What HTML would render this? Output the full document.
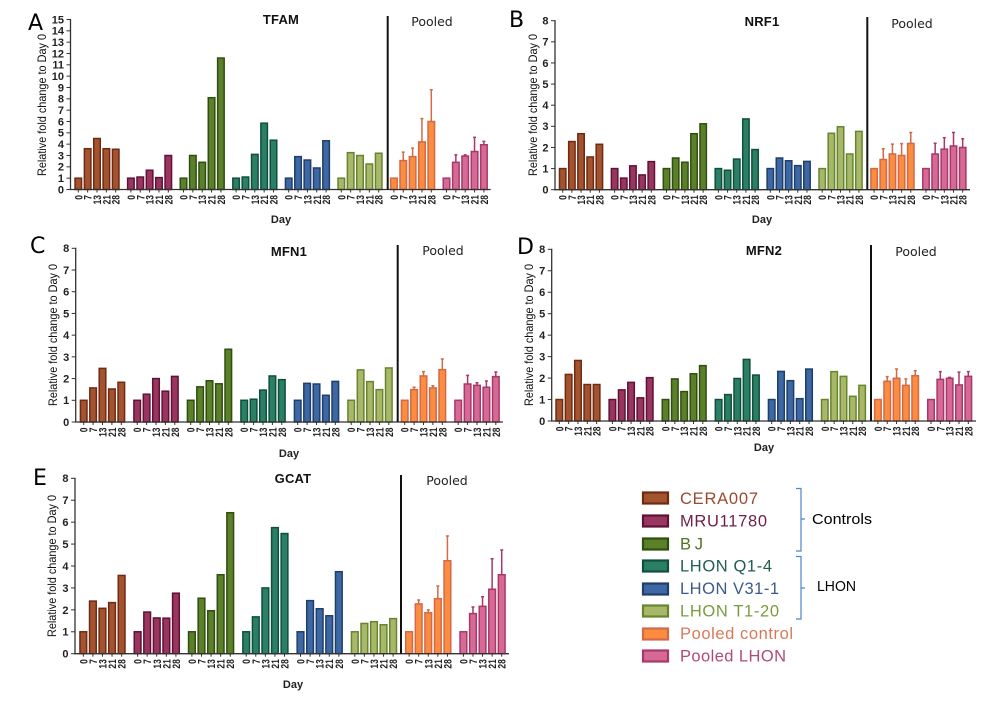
<!DOCTYPE html>
<html lang="en">
<head>
<meta charset="utf-8">
<title>Relative fold change to Day 0</title>
<style>
html,body{margin:0;padding:0;background:#fff;}
#figure{display:block;width:990px;height:705px;}
#figure text{font-family:"Liberation Sans",sans-serif;}
.tick{font-size:11px;font-weight:bold;fill:#222;}
.xtick{font-size:11px;font-weight:bold;fill:#222;}
.ytitle{font-size:12px;fill:#111;}
.title{font-size:13px;font-weight:bold;fill:#111;letter-spacing:.2px;}
.day{font-size:11px;font-weight:bold;fill:#222;}
.pooled{font-size:12.5px;fill:#222;font-family:"DejaVu Sans",sans-serif !important;}
.letter{font-size:22px;fill:#000;font-family:"DejaVu Sans",sans-serif !important;}
.lg{font-size:16.5px;}
.grp{font-size:15px;fill:#000;}
</style>
</head>
<body>
<svg id="figure" xmlns="http://www.w3.org/2000/svg" width="990" height="705" viewBox="0 0 990 705">
  <g id="panels" style="filter:blur(0.2px)"></g>
  <g id="legend" style="filter:blur(0.2px)">
    <g><rect x="643" y="492.5" width="25" height="11" fill="#a4532f" stroke="#6f2a12" stroke-width="2.2"/><text class="lg" x="680" y="504" fill="#9a4a2e" textLength="78" lengthAdjust="spacing">CERA007</text></g>
    <g><rect x="643" y="515.5" width="25" height="11" fill="#9a3560" stroke="#5f1236" stroke-width="2.2"/><text class="lg" x="680" y="526.5" fill="#6d1f45" textLength="87" lengthAdjust="spacing">MRU11780</text></g>
    <g><rect x="643" y="538.5" width="25" height="11" fill="#5c7f2a" stroke="#2f4f10" stroke-width="2.2"/><text class="lg" x="680" y="549.5" fill="#4f7020" textLength="23" lengthAdjust="spacing">BJ</text></g>
    <g><rect x="643" y="560.5" width="25" height="11" fill="#2a7f65" stroke="#0f4f3c" stroke-width="2.2"/><text class="lg" x="680" y="571.5" fill="#1f5f4f" textLength="92" lengthAdjust="spacing">LHON Q1-4</text></g>
    <g><rect x="643" y="583.5" width="25" height="11" fill="#3d68a5" stroke="#1f3f68" stroke-width="2.2"/><text class="lg" x="680" y="594" fill="#3c5a8a" textLength="99" lengthAdjust="spacing">LHON V31-1</text></g>
    <g><rect x="643" y="605.5" width="25" height="11" fill="#a9b868" stroke="#66852f" stroke-width="2.2"/><text class="lg" x="680" y="616.5" fill="#7a9a40" textLength="99" lengthAdjust="spacing">LHON T1-20</text></g>
    <g><rect x="643" y="628.5" width="25" height="11" fill="#fc8c3f" stroke="#d06a4a" stroke-width="2.2"/><text class="lg" x="680" y="639" fill="#d8785a" textLength="113" lengthAdjust="spacing">Pooled control</text></g>
    <g><rect x="643" y="650.5" width="25" height="11" fill="#d66a95" stroke="#a8386a" stroke-width="2.2"/><text class="lg" x="680" y="661.5" fill="#b04a78" textLength="106" lengthAdjust="spacing">Pooled LHON</text></g>
    <path d="M796 488.5H801V551H796M801 519H805" fill="none" stroke="#4a86c8" stroke-width="1.2"/>
    <path d="M796 556.5H801V619H796M801 588H805" fill="none" stroke="#4a86c8" stroke-width="1.2"/>
    <text class="grp" x="812" y="524" textLength="60" lengthAdjust="spacingAndGlyphs">Controls</text>
    <text class="grp" x="817" y="591" textLength="39" lengthAdjust="spacingAndGlyphs">LHON</text>
  </g>
</svg>
<script>
const days = ['0', '7', '13', '21', '28'];
const cellLines = ['CERA007', 'MRU11780', 'BJ', 'LHON Q1-4', 'LHON V31-1', 'LHON T1-20', 'Pooled control', 'Pooled LHON'];
const fills = ['#a4532f', '#9a3560', '#5c7f2a', '#2a7f65', '#3d68a5', '#a9b868', '#fc8c3f', '#d66a95'];
const strokes = ['#6f2a12', '#5f1236', '#2f4f10', '#0f4f3c', '#1f3f68', '#66852f', '#d06a4a', '#a8386a'];

const tfamValues = [
  [1, 3.6, 4.5, 3.6, 3.55],
  [1, 1.1, 1.7, 1.05, 3.0],
  [1, 3.0, 2.4, 8.1, 11.6],
  [1, 1.1, 3.1, 5.85, 4.35],
  [1, 2.9, 2.6, 1.9, 4.3],
  [1, 3.25, 3.0, 2.25, 3.2],
  [1, 2.55, 2.9, 4.2, 6.0],
  [1, 2.4, 2.95, 3.35, 3.95]
];
const tfamControlErr = [null, 3.3, 3.65, 6.25, 8.8];
const tfamLhonErr = [null, 3.05, 3.05, 4.6, 4.25];

const nrf1Values = [
  [1, 2.28, 2.65, 1.55, 2.15],
  [1, 0.55, 1.13, 0.7, 1.33],
  [1, 1.5, 1.3, 2.65, 3.12],
  [1, 0.92, 1.45, 3.35, 1.9],
  [1, 1.5, 1.37, 1.14, 1.34],
  [1, 2.67, 2.98, 1.69, 2.76],
  [1, 1.43, 1.69, 1.62, 2.19],
  [1, 1.69, 1.92, 2.07, 2.0]
];
const nrf1ControlErr = [null, 1.94, 2.16, 2.18, 2.71];
const nrf1LhonErr = [null, 2.2, 2.46, 2.71, 2.41];

const mfn1Values = [
  [1, 1.57, 2.47, 1.52, 1.83],
  [1, 1.28, 2.0, 1.42, 2.1],
  [1, 1.62, 1.9, 1.76, 3.35],
  [1, 1.05, 1.47, 2.12, 1.95],
  [1, 1.78, 1.75, 1.23, 1.87],
  [1, 2.4, 1.86, 1.49, 2.49],
  [1, 1.49, 2.12, 1.57, 2.41],
  [1, 1.75, 1.69, 1.6, 2.09]
];
const mfn1ControlErr = [null, 1.6, 2.32, 1.67, 2.9];
const mfn1LhonErr = [null, 2.15, 1.81, 1.89, 2.3];

const mfn2Values = [
  [1, 2.17, 2.82, 1.7, 1.7],
  [1, 1.45, 1.8, 1.08, 2.02],
  [1, 1.96, 1.37, 2.2, 2.58],
  [1, 1.23, 1.98, 2.87, 2.14],
  [1, 2.31, 1.88, 1.04, 2.42],
  [1, 2.3, 2.08, 1.15, 1.66],
  [1, 1.85, 1.99, 1.66, 2.11],
  [1, 1.94, 1.99, 1.68, 2.08]
];
const mfn2ControlErr = [null, 2.07, 2.42, 1.96, 2.34];
const mfn2LhonErr = [null, 2.3, 2.03, 2.28, 2.3];

const gcatValues = [
  [1, 2.4, 2.07, 2.33, 3.57],
  [1, 1.9, 1.63, 1.62, 2.76],
  [1, 2.53, 1.96, 3.6, 6.43],
  [1, 1.68, 3.0, 5.75, 5.48],
  [1, 2.42, 2.05, 1.73, 3.74],
  [1, 1.38, 1.46, 1.32, 1.6],
  [1, 2.27, 1.87, 2.51, 4.24],
  [1, 1.83, 2.16, 2.94, 3.6]
];
const gcatControlErr = [null, 2.45, 2.0, 3.09, 5.37];
const gcatLhonErr = [null, 2.13, 2.6, 4.33, 4.73];

const tickCountsLarge = 15;
const tickCountsSmall = 8;

const SVGNS = 'http://www.w3.org/2000/svg';
const root = document.getElementById('panels');

function make(parent, tag, attrs, text) {
  const el = document.createElementNS(SVGNS, tag);
  for (const k in attrs) el.setAttribute(k, attrs[k]);
  if (text !== undefined) el.textContent = text;
  parent.appendChild(el);
  return el;
}

function drawPanel(p) {
  const key = p.title.toLowerCase();
  const g = make(root, 'g', {});
  
  

  const yScale = v => p.y0 - v * (p.y0 - p.yTop) / p.yMax;
  const xScale = (group, i) => p.x0 + group * p.groupStep + i * p.barStep;
  const barW = p.barStep * 0.7;

  p.values.forEach((series, s) => {
    const sg = make(g, 'g', {});
    
    
    const errs = s === 6 ? p.controlErr : (s === 7 ? p.lhonErr : null);
    series.forEach((v, i) => {
      const cx = xScale(s, i);
      if (errs && errs[i] !== null) {
        const e = make(sg, 'path', {
          d: 'M' + cx + ' ' + yScale(v) + 'V' + yScale(errs[i]) + 'M' + (cx - 1.5) + ' ' + yScale(errs[i]) + 'H' + (cx + 1.5),
          fill: 'none', stroke: strokes[s], 'stroke-width': 1.5
        });
        
        
      }
      const r = make(sg, 'rect', {
        x: cx - barW / 2, y: yScale(v), width: barW, height: p.y0 - yScale(v),
        fill: fills[s], stroke: strokes[s], 'stroke-width': 1.5
      });
      
      
      const tk = make(sg, 'line', { x1: cx, x2: cx, y1: p.y0, y2: p.y0 + 3, stroke: '#333', 'stroke-width': 1 });
      
      
      const lx = cx + 4, ly = p.y0 + 5.5;
      const t = make(sg, 'text', {
        class: 'xtick', x: 0, y: 0, 'text-anchor': 'end',
        transform: 'translate(' + lx + ' ' + ly + ') rotate(-90)',
        textLength: days[i].length * 4.7, lengthAdjust: 'spacingAndGlyphs'
      }, days[i]);
      
      
    });
  });

  const xa = make(g, 'line', { x1: p.axisX - 0.7, x2: p.xEnd, y1: p.y0, y2: p.y0, stroke: '#333', 'stroke-width': 1.3 });
  
  
  const ya = make(g, 'line', { x1: p.axisX, x2: p.axisX, y1: p.yTop - 0.6, y2: p.y0, stroke: '#333', 'stroke-width': 1.3 });
  
  

  for (let v = 0; v <= p.yMax; v++) {
    const y = yScale(v);
    const tk = make(g, 'line', { x1: p.axisX - 4, x2: p.axisX, y1: y, y2: y, stroke: '#333', 'stroke-width': 1 });
    
    
    const t = make(g, 'text', { class: 'tick', x: p.axisX - 6.5, y: y + 3.9, 'text-anchor': 'end' }, String(v));
    
    
  }

  const yt = make(g, 'text', {
    class: 'ytitle', x: 0, y: 0, 'text-anchor': 'middle',
    transform: 'translate(' + p.yTitleX + ' ' + p.yTitleY + ') rotate(-90)',
    textLength: 142, lengthAdjust: 'spacingAndGlyphs'
  }, 'Relative fold change to Day 0');
  
  

  const title = make(g, 'text', { class: 'title', x: p.titleX, y: p.titleY, 'text-anchor': 'middle' }, p.title);
  
  

  const day = make(g, 'text', { class: 'day', x: p.titleX, y: p.dayY, 'text-anchor': 'middle' }, 'Day');
  
  

  const div = make(g, 'line', { x1: p.divX, x2: p.divX, y1: p.divTop, y2: p.y0, stroke: '#111', 'stroke-width': 2 });
  
  

  const pooled = make(g, 'text', { class: 'pooled', x: p.pooledX, y: p.pooledY, 'text-anchor': 'middle' }, 'Pooled');
  
  

  const letter = make(g, 'text', { class: 'letter', x: p.letterX, y: p.letterY }, p.letter);
  
  
}

drawPanel({ title: 'TFAM', letter: 'A', values: tfamValues, controlErr: tfamControlErr, lhonErr: tfamLhonErr, yMax: tickCountsLarge,
  axisX: 70.5, y0: 189.5, yTop: 19.5, x0: 78.3, barStep: 9.35, groupStep: 52.6, xEnd: 490.7,
  divX: 387.7, divTop: 16, titleX: 281, titleY: 24, dayY: 223, pooledX: 432, pooledY: 26,
  yTitleX: 46, yTitleY: 105, letterX: 28, letterY: 30 });
drawPanel({ title: 'NRF1', letter: 'B', values: nrf1Values, controlErr: nrf1ControlErr, lhonErr: nrf1LhonErr, yMax: tickCountsSmall,
  axisX: 555, y0: 189.7, yTop: 20.7, x0: 562.7, barStep: 9.17, groupStep: 51.9, xEnd: 970,
  divX: 867.3, divTop: 17, titleX: 762, titleY: 26, dayY: 223, pooledX: 912, pooledY: 28,
  yTitleX: 537, yTitleY: 105, letterX: 509, letterY: 27 });
drawPanel({ title: 'MFN1', letter: 'C', values: mfn1Values, controlErr: mfn1ControlErr, lhonErr: mfn1LhonErr, yMax: tickCountsSmall,
  axisX: 75.7, y0: 422, yTop: 248.3, x0: 83.7, barStep: 9.4, groupStep: 53.5, xEnd: 503,
  divX: 397.7, divTop: 245, titleX: 289, titleY: 256, dayY: 457, pooledX: 443, pooledY: 255,
  yTitleX: 57, yTitleY: 335, letterX: 30, letterY: 253 });
drawPanel({ title: 'MFN2', letter: 'D', values: mfn2Values, controlErr: mfn2ControlErr, lhonErr: mfn2LhonErr, yMax: tickCountsSmall,
  axisX: 551.7, y0: 421, yTop: 249.3, x0: 559.3, barStep: 9.33, groupStep: 53.1, xEnd: 976,
  divX: 871, divTop: 245, titleX: 764, titleY: 255, dayY: 451, pooledX: 916, pooledY: 256,
  yTitleX: 533, yTitleY: 335, letterX: 517, letterY: 254 });
drawPanel({ title: 'GCAT', letter: 'E', values: gcatValues, controlErr: gcatControlErr, lhonErr: gcatLhonErr, yMax: tickCountsSmall,
  axisX: 75, y0: 653.7, yTop: 478.3, x0: 83.3, barStep: 9.58, groupStep: 54.3, xEnd: 509,
  divX: 401, divTop: 475, titleX: 293, titleY: 483, dayY: 688, pooledX: 447, pooledY: 485,
  yTitleX: 56, yTitleY: 566, letterX: 33, letterY: 485 });
</script>
</body>
</html>
